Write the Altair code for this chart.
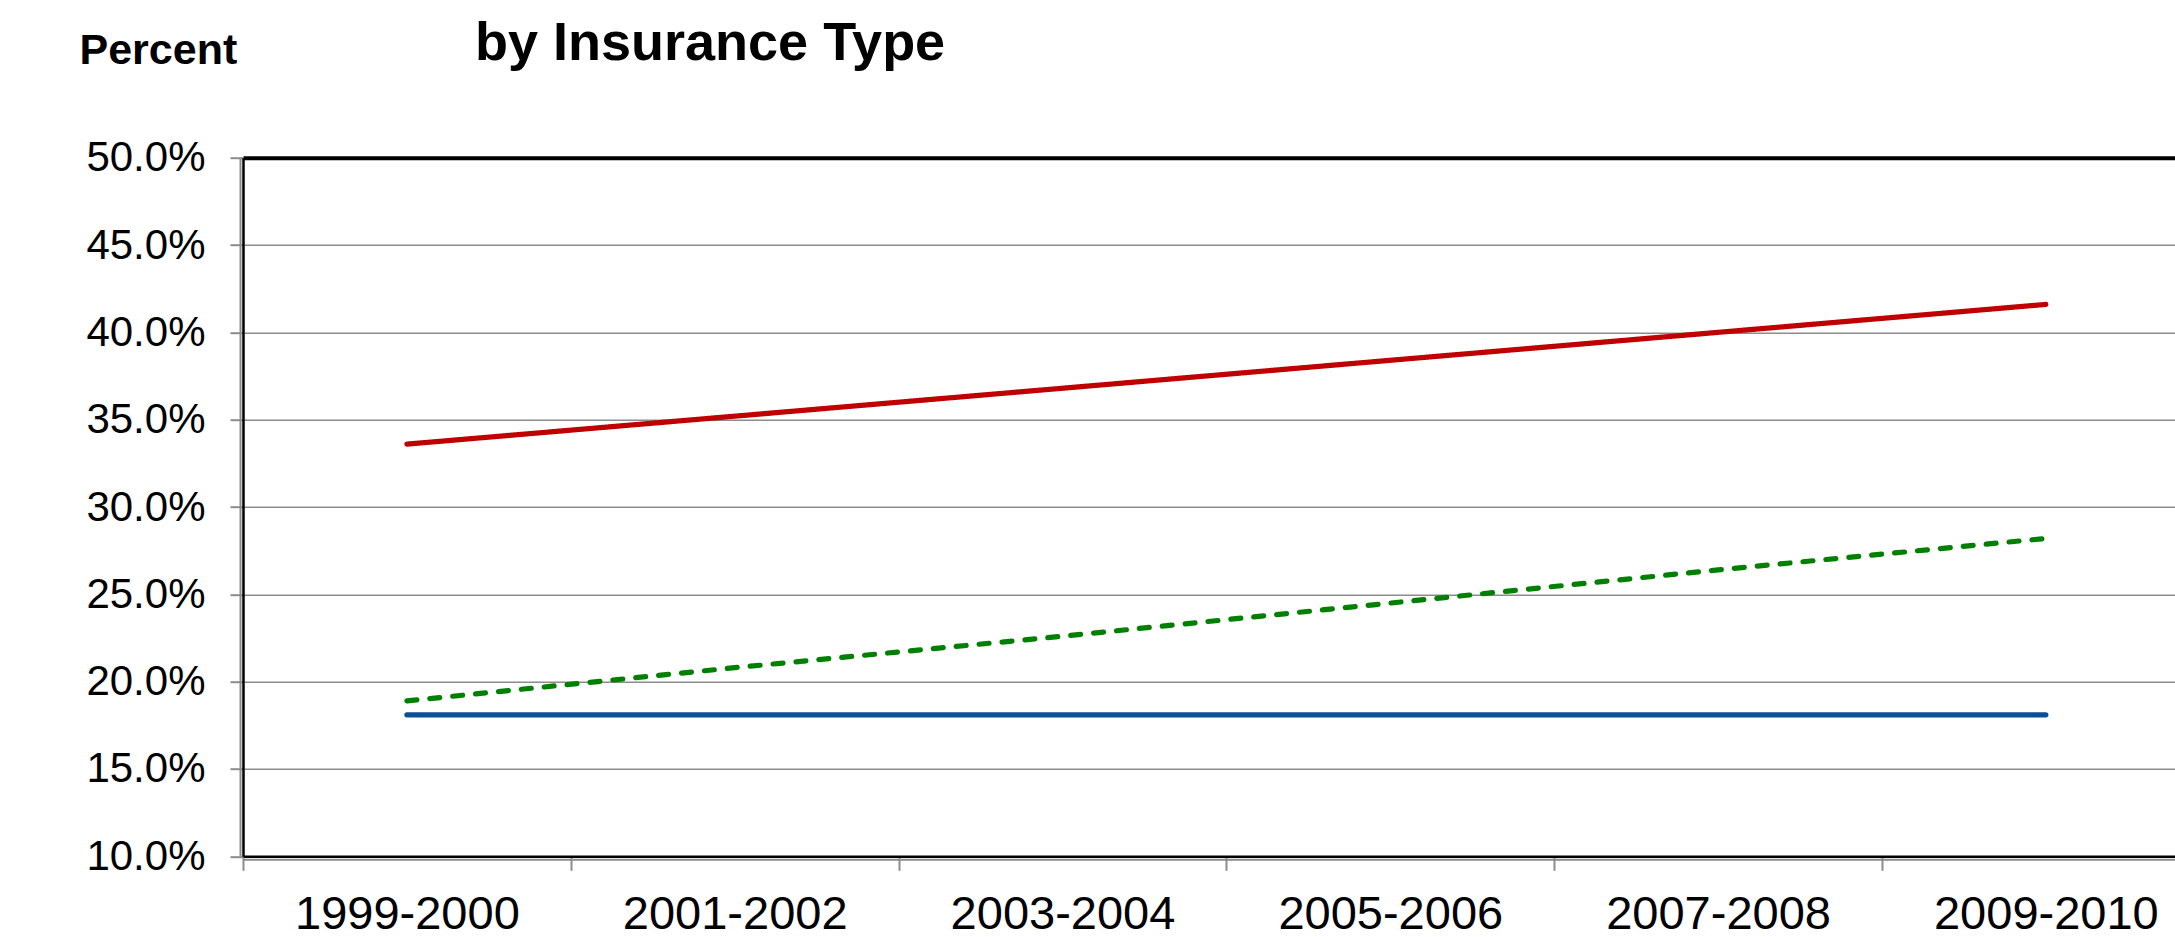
import altair as alt
import pandas as pd

# ---- data ----
categories = ["1999-2000", "2001-2002", "2003-2004", "2005-2006", "2007-2008", "2009-2010"]
series_names = ["Series 1", "Series 2", "Series 3"]
series_1 = [33.6, 35.2, 36.8, 38.4, 40.0, 41.6]   # red, solid
series_2 = [18.9, 20.8, 22.6, 24.5, 26.4, 28.2]   # green, dashed
series_3 = [18.1, 18.1, 18.1, 18.1, 18.1, 18.1]   # blue, solid
series_colors = ["#C00000", "#008000", "#0B4F98"]
series_dashes = [[1, 0], [10, 13], [1, 0]]
y_ticks = [10, 15, 20, 25, 30, 35, 40, 45, 50]

rows = []
for name, vals in zip(series_names, [series_1, series_2, series_3]):
    for i, (c, v) in enumerate(zip(categories, vals)):
        rows.append({"period": c, "idx": i, "series": name, "value": v})
df = pd.DataFrame(rows)

FONT = "Liberation Sans"
cat_array = "[" + ",".join(f"'{c}'" for c in categories) + "]"
x_label_expr = f"datum.value % 1 === 0 ? {cat_array}[datum.value] : ''"
x_tick_values = [i * 0.5 - 0.5 for i in range(12)]  # band edges and centres

x_scale = alt.Scale(domain=[-0.5, 5.394], nice=False, zero=False)
y_scale = alt.Scale(domain=[10, 50], nice=False, zero=False)

lines = alt.Chart(df).mark_line(strokeWidth=5.2, strokeCap="round").encode(
    x=alt.X(
        "idx:Q",
        scale=x_scale,
        axis=alt.Axis(
            orient="bottom",
            values=x_tick_values,
            labelExpr=x_label_expr,
            title=None,
            grid=False,
            tickOpacity={"condition": {"test": "datum.value % 1 !== 0", "value": 1}, "value": 0},
            tickSize=14,
            tickColor="#8c8c8c",
            tickWidth=2,
            domainColor="black",
            domainWidth=2.5,
            labelFont=FONT,
            labelFontSize=47,
            labelColor="black",
            labelPadding=21,
            labelLimit=0,
            labelOverlap=False,
            labelFlush=False,
            labelBound=False,
        ),
    ),
    y=alt.Y(
        "value:Q",
        scale=y_scale,
        axis=alt.Axis(
            orient="left",
            values=y_ticks,
            labelExpr="format(datum.value, '.1f') + '%'",
            title="Percent",
            titleAngle=0,
            titleX=-164,
            titleY=-94.4,
            titleAlign="left",
            titleBaseline="alphabetic",
            titleFont=FONT,
            titleFontSize=43,
            titleFontWeight="bold",
            titleColor="black",
            grid=True,
            gridColor={"condition": {"test": "datum.value === 50", "value": "black"}, "value": "#8c8c8c"},
            gridWidth={"condition": {"test": "datum.value === 50", "value": 4}, "value": 1.6},
            tickSize=13,
            tickColor="#8c8c8c",
            tickWidth=2,
            domainColor="black",
            domainWidth=2.5,
            labelFont=FONT,
            labelFontSize=42,
            labelColor="black",
            labelPadding=25,
            labelLimit=0,
            labelOverlap=False,
            labelFlush=False,
        ),
    ),
    color=alt.Color("series:N", scale=alt.Scale(domain=series_names, range=series_colors), legend=None),
    strokeDash=alt.StrokeDash("series:N", scale=alt.Scale(domain=series_names, range=series_dashes), legend=None),
)

frame2 = alt.Chart(df).mark_line(opacity=0).encode(
    x=alt.X(
        "idx:Q",
        scale=x_scale,
        axis=alt.Axis(orient="bottom", offset=3, domainColor="#8c8c8c", domainWidth=2,
                      ticks=False, labels=False, grid=False, title=None),
    ),
    y=alt.Y(
        "value:Q",
        scale=y_scale,
        axis=alt.Axis(orient="left", offset=3, domainColor="#8c8c8c", domainWidth=2,
                      ticks=False, labels=False, grid=False, title=None),
    ),
    detail="series:N",
)

chart = (
    alt.layer(lines, frame2)
    .resolve_axis(x="independent", y="independent")
    .properties(
        width=1932,
        height=698.6,
        autosize=alt.AutoSizeParams(type="none"),
        padding={"left": 243, "top": 157.7, "right": 0, "bottom": 80.7},
        background="white",
        title=alt.TitleParams(
            text="by Insurance Type",
            anchor="start",
            frame="group",
            orient="top",
            offset=0,
            dx=232,
            dy=85,
            baseline="alphabetic",
            font=FONT,
            fontSize=54,
            fontWeight="bold",
            color="black",
        ),
    )
    .configure_view(stroke=None)
)

chart.save("out.html", embed_options={"renderer": "svg", "actions": False})
